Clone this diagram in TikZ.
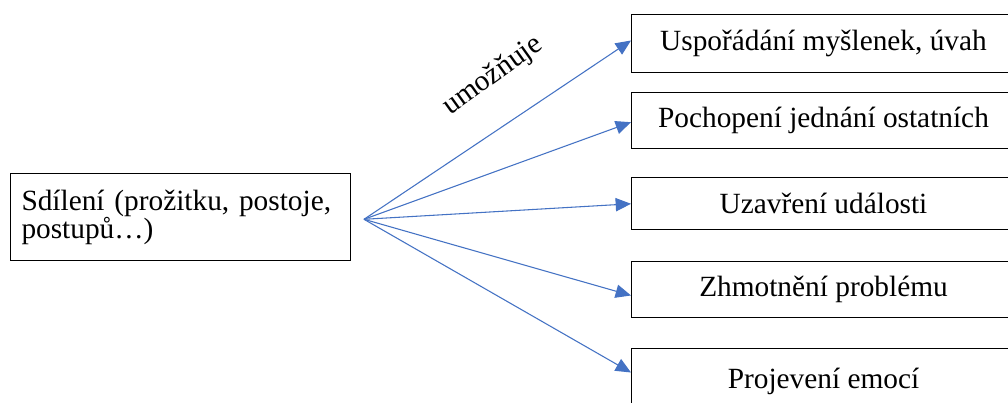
\documentclass[tikz,border=0pt]{standalone}
\usepackage{fontspec}
\setmainfont{Liberation Serif}
\usetikzlibrary{arrows.meta,calc}
\definecolor{arrowblue}{RGB}{68,114,196}
\begin{document}
\begin{tikzpicture}[x=0.75pt,y=-0.75pt,
  txt/.style={font=\fontsize{22pt}{21pt}\selectfont},
  box/.style={draw=black, line width=0.75pt, txt, inner sep=0pt},
  rbox/.style={box, anchor=north west, minimum width=288pt, align=center},
  conn/.style={draw=arrowblue, line width=0.8pt, -{Triangle[length=11.5pt,width=10pt]}}
]
\useasboundingbox (0,0) rectangle (1008,403);
\fill[white] (0,0) rectangle (1008,403);

\node[box, anchor=north west, minimum width=255pt, minimum height=65.25pt,
      text width=238.5pt, align=left] (src) at (10,173)
  {Sdílení (prožitku, postoje,\\postupů…)};

\node[rbox, minimum height=43.5pt] (b1) at (631,14) {Uspořádání myšlenek, úvah};
\node[rbox, minimum height=42pt] (b2) at (631,92) {Pochopení jednání ostatních};
\node[rbox, minimum height=38.25pt] (b3) at (631,177.5) {Uzavření události};
\node[rbox, minimum height=42pt] (b4) at (631,261) {Zhmotnění problému};
\node[rbox, minimum height=49.5pt] (b5) at (631,348) {Projevení emocí};

\coordinate (hub) at (364,219.3);

\draw[conn] (hub) -- ($(b1.west)+(0,-3)$);
\draw[conn] (hub) -- ($(b2.west)+(0,1.7)$);
\draw[conn] (hub) -- ($(b3.west)+(0,0.3)$);
\draw[conn] (hub) -- ($(b4.west)+(0,6)$);
\draw[conn] (hub) -- ($(b5.west)+(0,-9)$);

\node[txt, rotate=35.6] (lbl) at (493,76) {umožňuje};
\end{tikzpicture}
\end{document}
